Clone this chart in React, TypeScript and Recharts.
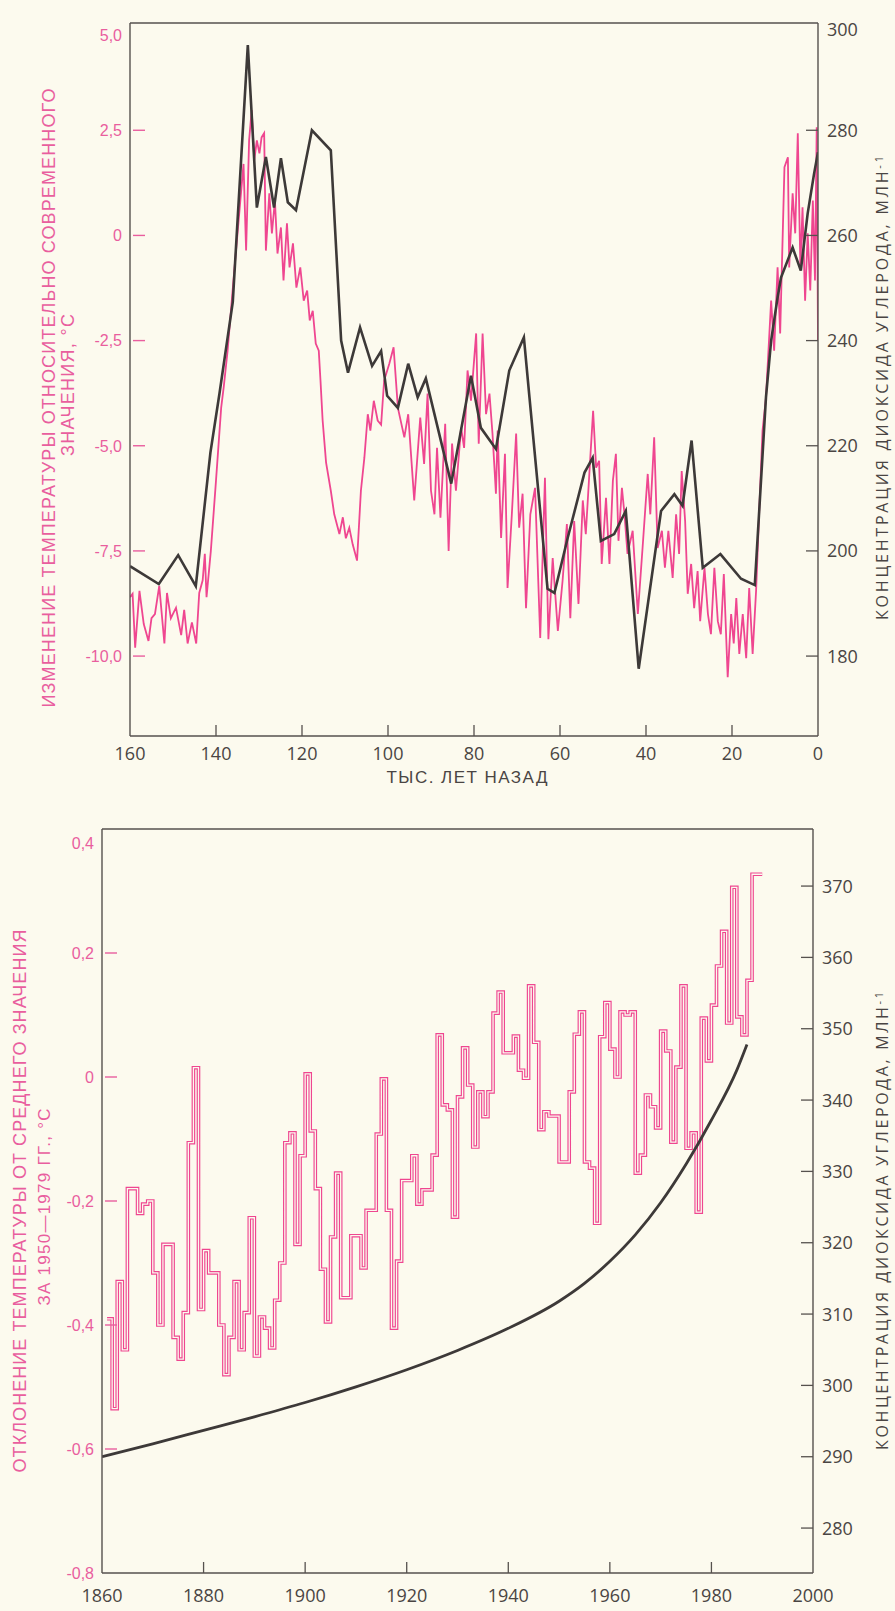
import { LineChart, Line, XAxis, YAxis, ReferenceLine } from "recharts"

const BG = "#fcfaee"
const PINK = "#ef4690"
const PINK_TEXT = "#e95e9e"
const INK = "#3d3938"
const AXIS = "#56514e"
const LABEL = "#4a4543"

// upper panel: thousand years ago -> temperature change, °C
const tempRecord: [number, number][] = [
  [160, -8.6], [159.4, -8.52], [158.8, -9.8], [157.8, -8.45], [156.8, -9.24], [155.7, -9.64],
  [155, -9.1], [154.2, -9.0], [153.2, -8.33], [152, -9.7], [151.4, -8.5], [150.5, -9.1],
  [149.3, -8.85], [148.1, -9.5], [147.4, -8.9], [146.6, -9.7], [145.6, -9.2], [144.6, -9.7],
  [143.9, -8.5], [143.1, -8.2], [142.6, -7.57], [142.2, -8.6], [141.2, -7.5], [140, -5.83],
  [138.8, -4.1], [138.2, -3.6], [137.3, -2.74], [135.8, -0.9], [134.6, 0.52], [133.6, 1.7],
  [133, -0.36], [132.3, 2.26], [131.7, 2.98], [131.1, 1.79], [130.5, 2.26], [129.9, 1.95],
  [129.4, 2.33], [128.8, 2.43], [128.4, -0.36], [127.6, 1.0], [127, 0.05], [126.3, 0.83],
  [125.7, -0.43], [124.9, 0.19], [124.3, -1.07], [123.5, 0.29], [122.9, -0.76], [122.1, -0.19],
  [121.3, -1.24], [120.4, -0.76], [119.6, -1.55], [118.8, -1.31], [118.2, -2.02], [117.5, -1.79],
  [116.8, -2.57], [116.1, -2.74], [115.7, -3.45], [115.2, -4.4], [114.4, -5.4], [113.3, -6.07],
  [112.5, -6.63], [111.3, -7.1], [110.5, -6.7], [109.8, -7.2], [109, -6.95], [108.2, -7.35],
  [107.2, -7.73], [106.3, -6.07], [105.5, -5.29], [104.7, -4.25], [104.1, -4.64], [103.3, -3.93],
  [102.4, -4.4], [101.6, -4.5], [100.9, -3.45], [99.7, -3.05], [98.7, -2.66], [97.7, -4.1],
  [96.2, -4.8], [95.3, -4.25], [93.9, -6.3], [92.5, -4.33], [91.6, -5.43], [90.8, -3.76],
  [90, -6.07], [89.2, -6.63], [88.6, -5.05], [87.8, -6.71], [86.7, -4.48], [85.9, -7.5],
  [85.1, -4.95], [84.2, -6.07], [83, -4.57], [82.3, -5.05], [81.5, -3.21], [80.7, -3.93],
  [79.5, -2.33], [78.9, -4.95], [78, -2.33], [77.2, -4.25], [76.4, -3.76], [75.7, -4.71],
  [74.9, -6.14], [74.5, -4.64], [73.7, -7.19], [72.8, -5.19], [72.2, -8.38], [71.2, -6.63],
  [70.2, -4.71], [69.5, -6.95], [68.7, -6.14], [67.9, -8.86], [66.9, -6.63], [65.8, -6.0],
  [64.6, -9.57], [63.5, -5.76], [62.7, -9.6], [61.7, -7.67], [60.5, -9.4], [59.4, -8.21],
  [58.4, -6.86], [57.6, -9.1], [56.7, -6.79], [55.7, -8.76], [54.7, -6.3], [54, -7.1],
  [53, -5.36], [52.3, -4.17], [51.6, -5.52], [50.9, -5.36], [50.3, -7.81], [49.3, -6.24],
  [48.5, -7.81], [47.7, -5.83], [47, -5.19], [46.4, -7.26], [45.6, -6.0], [45, -6.63],
  [44.3, -7.57], [43.1, -7.02], [41.9, -9.0], [40.8, -7.43], [39.6, -5.67], [39, -6.63],
  [38.1, -4.8], [37.3, -7.43], [36.3, -7.02], [35.6, -7.9], [34.8, -7.02], [33.8, -8.14],
  [33, -6.63], [32.3, -7.57], [31.7, -5.6], [30.9, -6.79], [30.3, -8.52], [29.5, -7.81],
  [28.8, -8.86], [28, -7.98], [27.4, -9.17], [26.4, -7.9], [25.6, -9.0], [24.9, -9.48],
  [24.1, -7.9], [23.3, -9.17], [22.6, -9.48], [21.9, -8.05], [21, -10.5], [20.2, -9.0],
  [19.6, -9.7], [19, -8.62], [18.3, -9.95], [17.5, -9.0], [16.7, -10.05], [16, -8.38],
  [15.2, -9.95], [14.4, -8.45], [13.7, -6.63], [12.9, -4.64], [12.1, -3.86], [10.9, -1.55],
  [10.2, -2.74], [9.4, -0.76], [8.8, -2.33], [7.8, 1.62], [7, 1.86], [6.7, -0.76],
  [5.9, 1.0], [5.3, 0.05], [4.7, 2.43], [4.1, -0.76], [3.6, 0.67], [3, -1.55],
  [2.4, 0.05], [1.8, -1.31], [1.2, 0.83], [0.7, -1.07], [0.3, 2.57], [0, -2.5],
]

// upper panel: thousand years ago -> CO2, ppm
const co2Record: [number, number][] = [
  [160, 197.1], [153.3, 193.7], [148.8, 199.2], [144.7, 193.3], [141.3, 218.7], [139.2, 229.9],
  [136.1, 247.3], [132.6, 296.2], [130.5, 265.3], [128.4, 274.9], [126.5, 265.3], [124.9, 274.7],
  [123.3, 266.3], [121.4, 264.8], [117.7, 280], [113.3, 276.2], [110.9, 240], [109.3, 233.9],
  [106.5, 242.5], [103.7, 235.2], [101.6, 238], [100.2, 229.5], [97.7, 227.2], [95.3, 235.6],
  [93.1, 229.2], [91.2, 232.8], [85.3, 212.8], [80.7, 233.3], [78.4, 223.4], [74.9, 219.4],
  [71.8, 234.3], [68.4, 240.6], [67.1, 229.2], [62.9, 192.8], [61.3, 192], [58.2, 202.5],
  [54.3, 214.9], [52.4, 217.7], [50.5, 201.9], [47.4, 203.2], [44.7, 207.6], [41.7, 177.6],
  [36.5, 207.6], [33.4, 210.8], [31.5, 208.6], [29.4, 221], [26.8, 196.8], [22.7, 199.4],
  [17.9, 194.7], [14.7, 193.5], [12.1, 229.2], [10.9, 240], [9.4, 248.2], [8.6, 252],
  [5.9, 257.7], [4, 253.3], [2.4, 264.2], [0.9, 271.8], [0, 275.8],
]

const ageTicks = [160, 140, 120, 100, 80, 60, 40, 20, 0]
const tempTicks = [5, 2.5, 0, -2.5, -5, -7.5, -10]
const co2Ticks = [180, 200, 220, 240, 260, 280, 300]

// lower panel: yearly anomaly vs 1950-1979 mean, °C (first year 1861)
const anomalyFirstYear = 1861
const anomalies = [
  -0.39, -0.535, -0.33, -0.44, -0.18, -0.18, -0.22, -0.205, -0.2, -0.316,
  -0.4, -0.27, -0.27, -0.42, -0.455, -0.38, -0.106, 0.015, -0.375, -0.28,
  -0.316, -0.316, -0.4, -0.48, -0.42, -0.33, -0.44, -0.38, -0.227, -0.45,
  -0.387, -0.405, -0.437, -0.36, -0.3, -0.106, -0.09, -0.27, -0.127, 0.005,
  -0.087, -0.18, -0.31, -0.395, -0.258, -0.155, -0.356, -0.356, -0.256, -0.256,
  -0.308, -0.215, -0.215, -0.092, -0.003, -0.215, -0.405, -0.297, -0.167, -0.167,
  -0.127, -0.205, -0.182, -0.182, -0.126, 0.068, -0.045, -0.053, -0.226, -0.032,
  0.047, -0.013, -0.113, -0.024, -0.064, -0.024, 0.103, 0.137, 0.039, 0.039,
  0.066, 0.011, -0.002, 0.147, 0.056, -0.085, -0.056, -0.063, -0.063, -0.137,
  -0.137, -0.024, 0.069, 0.105, -0.137, -0.147, -0.236, 0.065, 0.12, 0.045,
  0.0, 0.105, 0.1, 0.105, -0.155, -0.126, -0.029, -0.048, -0.082, 0.074,
  0.042, -0.105, 0.016, 0.147, -0.115, -0.09, -0.218, 0.095, 0.026, 0.116,
  0.179, 0.235, 0.087, 0.306, 0.097, 0.068, 0.156, 0.327, 0.327, 0.327,
]

// lower panel: CO2 concentration, ppm
const co2Years = [1860, 1870, 1880, 1890, 1900, 1910, 1920, 1930, 1940, 1950, 1955, 1960, 1965, 1970, 1975, 1980, 1985, 1987]
const co2Modern = [290, 291.8, 293.7, 295.6, 297.6, 299.8, 302.2, 304.9, 308.0, 311.8, 314.3, 317.4, 321.1, 325.6, 331, 337.2, 344.2, 347.8]

const yearTicks = [1860, 1880, 1900, 1920, 1940, 1960, 1980, 2000]
const anomalyTicks = [0.4, 0.2, 0, -0.2, -0.4, -0.6, -0.8]
const co2ModernTicks = [280, 290, 300, 310, 320, 330, 340, 350, 360, 370]

const tempData = tempRecord.map(([t, v]) => ({ t, v }))
const co2Data = co2Record.map(([t, v]) => ({ t, v }))
const anomalyData = anomalies.map((v, i) => ({ year: anomalyFirstYear + i, v }))
const co2ModernData = co2Years.map((year, i) => ({ year, v: co2Modern[i] }))

const fmt = (v: number) => (v === 0 ? "0" : v.toFixed(1).replace(".", ","))

const leftTick = (edges: Record<string, number>) => (p: any) => {
  const { x, y, payload } = p
  const v = payload.value
  const edge = String(v) in edges
  return (
    <g>
      {!edge && <line x1={x + 3} x2={x + 15} y1={y} y2={y} stroke={PINK_TEXT} strokeWidth={1.4} />}
      <text x={x - 8} y={y + (edges[String(v)] ?? 0)} dy="0.36em" textAnchor="end" fill={PINK_TEXT}
        fontSize={16} fontFamily="Liberation Sans, Arial, sans-serif">{fmt(v)}</text>
    </g>
  )
}

const rightTick = (edges: Record<string, number>) => (p: any) => {
  const { x, y, payload } = p
  const v = payload.value
  const edge = String(v) in edges
  return (
    <g>
      {!edge && <line x1={x - 12} x2={x} y1={y} y2={y} stroke={AXIS} strokeWidth={1.3} />}
      <text x={x + 9} y={y + (edges[String(v)] ?? 0)} dy="0.36em" textAnchor="start" fill={LABEL}
        fontSize={18} fontFamily="Open Sans, sans-serif">{v}</text>
    </g>
  )
}

const bottomTick = (edges: number[], baseline: number) => (p: any) => {
  const { x, y, payload } = p
  const v = payload.value
  return (
    <g>
      {!edges.includes(v) && <line x1={x} x2={x} y1={y - 11} y2={y} stroke={AXIS} strokeWidth={1.3} />}
      <text x={x} y={y + baseline} textAnchor="middle" fill={LABEL} fontSize={18}
        fontFamily="Open Sans, sans-serif">{v}</text>
    </g>
  )
}

const Title = ({ x, y, len, color, font, size, children }: any) => (
  <text transform={`translate(${x},${y}) rotate(-90)`} textAnchor="middle" dy="0.36em" fill={color}
    fontSize={size} fontFamily={font} textLength={len} lengthAdjust="spacing">{children}</text>
)

export default function App() {
  const sans = "Liberation Sans, Arial, sans-serif"
  const human = "Open Sans, sans-serif"
  return (
    <div style={{ position: "absolute", left: 0, top: 0, width: 895, height: 1611, background: BG, overflow: "hidden" }}>
      <div style={{ position: "absolute", left: 0, top: 0 }}>
        <LineChart width={895} height={800} margin={{ top: 23, right: 17, bottom: 34, left: 70 }}>
          <XAxis dataKey="t" type="number" domain={[0, 160]} reversed allowDataOverflow ticks={ageTicks}
            interval={0} height={30} tickSize={0} tickMargin={0} stroke={AXIS} strokeWidth={1.4}
            tick={bottomTick([160, 0], 24)} />
          <YAxis yAxisId="l" type="number" domain={[-11.9, 5.05]} allowDataOverflow ticks={tempTicks}
            interval={0} width={60} tickSize={0} tickMargin={0} stroke={AXIS} strokeWidth={1.4}
            tick={leftTick({ "5": 10 })} />
          <YAxis yAxisId="r" orientation="right" type="number" domain={[164.8, 300.4]} allowDataOverflow
            ticks={co2Ticks} interval={0} width={60} tickSize={0} tickMargin={0} stroke={AXIS} strokeWidth={1.4}
            tick={rightTick({ "300": 4 })} />
          <ReferenceLine yAxisId="l" y={5.05} stroke={AXIS} strokeWidth={1.4} />
          <Line yAxisId="l" data={tempData} dataKey="v" type="linear" stroke={PINK} strokeWidth={1.8}
            dot={false} isAnimationActive={false} />
          <Line yAxisId="r" data={co2Data} dataKey="v" type="linear" stroke={INK} strokeWidth={2.6}
            strokeLinejoin="miter" dot={false} isAnimationActive={false} />
        </LineChart>
      </div>

      <div style={{ position: "absolute", left: 0, top: 800 }}>
        <LineChart width={895} height={811} margin={{ top: 29, right: 22, bottom: 8, left: 42 }}>
          <XAxis dataKey="year" type="number" domain={[1860, 2000]} allowDataOverflow ticks={yearTicks}
            interval={0} height={30} tickSize={0} tickMargin={0} stroke={AXIS} strokeWidth={1.4}
            tick={bottomTick([1860, 2000], 29)} />
          <YAxis yAxisId="l" type="number" domain={[-0.8, 0.4]} allowDataOverflow ticks={anomalyTicks}
            interval={0} width={60} tickSize={0} tickMargin={0} stroke={AXIS} strokeWidth={1.4}
            tick={leftTick({ "0.4": 14, "-0.8": 0 })} />
          <YAxis yAxisId="r" orientation="right" type="number" domain={[273.7, 378]} allowDataOverflow
            ticks={co2ModernTicks} interval={0} width={60} tickSize={0} tickMargin={0} stroke={AXIS}
            strokeWidth={1.4} tick={rightTick({})} />
          <ReferenceLine yAxisId="l" y={0.4} stroke={AXIS} strokeWidth={1.4} />
          <Line yAxisId="l" data={anomalyData} dataKey="v" type="stepAfter" stroke={PINK} strokeWidth={3.6}
            dot={false} isAnimationActive={false} />
          <Line yAxisId="l" data={anomalyData} dataKey="v" type="stepAfter" stroke={BG} strokeWidth={1.3}
            dot={false} isAnimationActive={false} />
          <Line yAxisId="r" data={co2ModernData} dataKey="v" type="monotone" stroke={INK} strokeWidth={2.8}
            dot={false} isAnimationActive={false} />
        </LineChart>
      </div>

      <svg width={895} height={1611} style={{ position: "absolute", left: 0, top: 0, pointerEvents: "none" }}>
        <Title x={49} y={398} len={619} color={PINK_TEXT} font={sans} size={18}>
          ИЗМЕНЕНИЕ ТЕМПЕРАТУРЫ ОТНОСИТЕЛЬНО СОВРЕМЕННОГО
        </Title>
        <Title x={68} y={385} len={142} color={PINK_TEXT} font={sans} size={18}>
          ЗНАЧЕНИЯ, °C
        </Title>
        <text transform="translate(882,388) rotate(-90)" textAnchor="middle" dy="0.36em" fill={LABEL}
          fontSize={16} fontFamily={human} textLength={464} lengthAdjust="spacing">
          КОНЦЕНТРАЦИЯ ДИОКСИДА УГЛЕРОДА, МЛН<tspan dy="-0.45em" fontSize={11}>-1</tspan>
        </text>
        <text x={467} y={783} textAnchor="middle" fill={LABEL} fontSize={17} fontFamily={sans}
          textLength={161} lengthAdjust="spacing">ТЫС. ЛЕТ НАЗАД</text>

        <Title x={19.5} y={1201} len={543} color={PINK_TEXT} font={sans} size={18}>
          ОТКЛОНЕНИЕ ТЕМПЕРАТУРЫ ОТ СРЕДНЕГО ЗНАЧЕНИЯ
        </Title>
        <Title x={44} y={1207} len={197} color={PINK_TEXT} font={sans} size={17}>
          ЗА 1950—1979 ГГ., °C
        </Title>
        <text transform="translate(882,1221) rotate(-90)" textAnchor="middle" dy="0.36em" fill={LABEL}
          fontSize={16} fontFamily={human} textLength={458} lengthAdjust="spacing">
          КОНЦЕНТРАЦИЯ ДИОКСИДА УГЛЕРОДА, МЛН<tspan dy="-0.45em" fontSize={11}>-1</tspan>
        </text>
      </svg>
    </div>
  )
}
